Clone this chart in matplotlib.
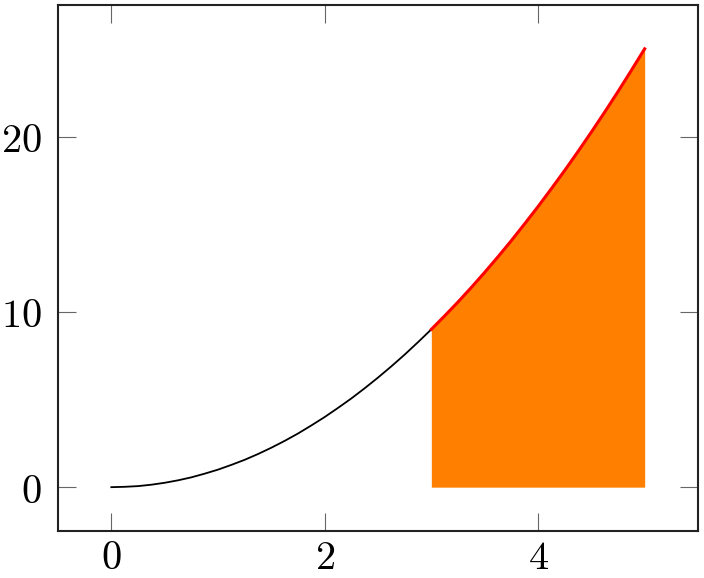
import matplotlib
matplotlib.use("Agg")
import matplotlib.pyplot as plt
from matplotlib.ticker import FuncFormatter

plt.rcParams['mathtext.fontset'] = 'cm'

x_vals = [0.0, 0.125, 0.25, 0.375, 0.5, 0.625, 0.75, 0.875, 1.0, 1.125,
          1.25, 1.375, 1.5, 1.625, 1.75, 1.875, 2.0, 2.125, 2.25, 2.375,
          2.5, 2.625, 2.75, 2.875, 3.0, 3.125, 3.25, 3.375, 3.5, 3.625,
          3.75, 3.875, 4.0, 4.125, 4.25, 4.375, 4.5, 4.625, 4.75, 4.875, 5.0]
y_vals = [0.0, 0.02, 0.06, 0.14, 0.25, 0.39, 0.56, 0.77, 1.0, 1.27,
          1.56, 1.89, 2.25, 2.64, 3.06, 3.52, 4.0, 4.52, 5.06, 5.64,
          6.25, 6.89, 7.56, 8.27, 9.0, 9.77, 10.56, 11.39, 12.25, 13.14,
          14.06, 15.02, 16.0, 17.02, 18.06, 19.14, 20.25, 21.39, 22.56, 23.77, 25.0]
shade_from = 3.0
x_ticks = [0, 2, 4]
y_ticks = [0, 10, 20]

xs_fill = [x for x in x_vals if x >= shade_from]
ys_fill = [y for x, y in zip(x_vals, y_vals) if x >= shade_from]
xs_low = [x for x in x_vals if x <= shade_from]
ys_low = [y for x, y in zip(x_vals, y_vals) if x <= shade_from]

fig = plt.figure(figsize=(7.04, 5.78), dpi=100)
ax = fig.add_axes([58/704, 47/578, 640/704, 526/578])

ax.fill_between(xs_fill, 0, ys_fill, color='#ff8000', lw=0, zorder=1)
ax.plot(xs_low, ys_low, color='black', lw=1.3, zorder=2)
ax.plot(xs_fill, ys_fill, color='red', lw=2.2, zorder=3)

ax.set_xlim(-0.5, 5.5)
ax.set_ylim(-2.5, 27.5)
ax.set_xticks(x_ticks)
ax.set_yticks(y_ticks)
fmt = FuncFormatter(lambda v, p: r'$%d$' % v)
ax.xaxis.set_major_formatter(fmt)
ax.yaxis.set_major_formatter(fmt)
ax.tick_params(direction='in', length=13, width=0.8, color='#666666',
               labelsize=29, top=True, right=True)
ax.tick_params(axis='y', pad=12)
ax.tick_params(axis='x', pad=5)
for s in ax.spines.values():
    s.set_linewidth(1.5)
    s.set_color('#222222')

fig.savefig('out.png', dpi=100)
